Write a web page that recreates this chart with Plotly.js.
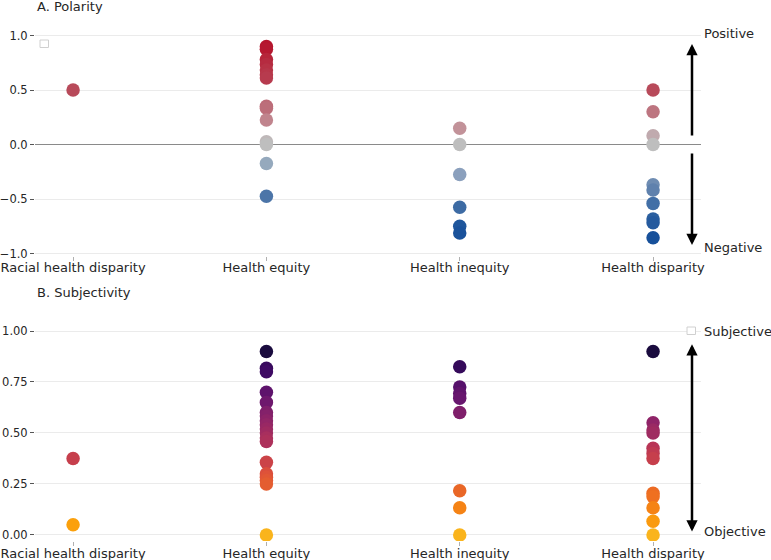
<!DOCTYPE html>
<html>
<head>
<meta charset="utf-8">
<script src="https://cdn.plot.ly/plotly-3.0.1.min.js"></script>
<style>html,body{margin:0;padding:0;background:#fff;}#chart{width:771px;height:560px;}</style>
</head>
<body>
<div id="chart"></div>
<script>
// ---- data ----
const categories = ['Racial health disparity', 'Health equity', 'Health inequity', 'Health disparity'];

const polarityRacial    = [0.5];
const polarityEquity    = [0.9, 0.875, 0.78, 0.733, 0.683, 0.64, 0.61, 0.35, 0.333, 0.225, 0.025, 0, -0.175, -0.475];
const polarityInequity  = [0.15, 0, -0.275, -0.575, -0.75, -0.8125];
const polarityDisparity = [0.5, 0.3, 0.08, 0, -0.37, -0.417, -0.54, -0.683, -0.717, -0.855];

const subjRacial    = [0.375, 0.05];
const subjEquity    = [0.9, 0.817, 0.8, 0.7, 0.65, 0.6, 0.583, 0.56, 0.54, 0.52, 0.5, 0.475, 0.458, 0.356, 0.3, 0.283, 0.267, 0.25, 0];
const subjInequity  = [0.825, 0.725, 0.694, 0.67, 0.6, 0.217, 0.133, 0];
const subjDisparity = [0.9, 0.55, 0.515, 0.5, 0.425, 0.4, 0.375, 0.204, 0.188, 0.133, 0.067, 0];

const polarityTicks = [-1, -0.5, 0, 0.5, 1];
const subjTicks = [0, 0.25, 0.5, 0.75, 1];

// ---- build ----
const polarityGroups = [polarityRacial, polarityEquity, polarityInequity, polarityDisparity];
const subjGroups = [subjRacial, subjEquity, subjInequity, subjDisparity];

function flatten(groups) {
  const xs = [], ys = [];
  groups.forEach((g, i) => g.forEach(v => { xs.push(categories[i]); ys.push(v); }));
  return {xs, ys};
}
const pol = flatten(polarityGroups);
const sub = flatten(subjGroups);

const polScale = [
  [0, '#0f4896'], [0.12, '#1d559c'], [0.2, '#3a69a3'], [0.26, '#4a74a8'], [0.3, '#6585ae'],
  [0.36, '#8aa0bd'], [0.41, '#94a8bd'], [0.5, '#bebebe'], [0.54, '#c0aaae'], [0.575, '#c29299'],
  [0.65, '#bd7580'], [0.75, '#b84a5a'], [0.95, '#b5152d'], [1, '#b0102a']
];
const infernoPart = [
  [0, '#fab41c'], [0.0375, '#fca50a'], [0.1625, '#f37819'], [0.2875, '#dd513a'], [0.4125, '#bc3754'],
  [0.5375, '#932667'], [0.6625, '#6a176e'], [0.7875, '#420a68'], [0.9125, '#160b39'], [1, '#070314']
];

const traces = [
  {
    type: 'scatter', mode: 'markers', x: pol.xs, y: pol.ys, xaxis: 'x', yaxis: 'y',
    marker: {size: 13.5, color: pol.ys, colorscale: polScale, cmin: -1, cmax: 1, line: {width: 0}},
    showlegend: false, hoverinfo: 'x+y'
  },
  {
    type: 'scatter', mode: 'markers', x: sub.xs, y: sub.ys, xaxis: 'x2', yaxis: 'y2',
    marker: {size: 13.5, color: sub.ys, colorscale: infernoPart, cmin: 0, cmax: 1, line: {width: 0}},
    showlegend: false, hoverinfo: 'x+y'
  }
];

const font = {family: 'DejaVu Sans', size: 13, color: '#262626'};
const xdom = [35 / 771, 701 / 771];
const xcommon = {
  type: 'category', categoryorder: 'array', categoryarray: categories,
  range: [-0.197, 3.248], domain: xdom, showgrid: false, zeroline: false, showline: false,
  ticks: 'outside', ticklen: 4, tickwidth: 1, tickcolor: '#b0b0b0', ticklabelstandoff: -4,
  tickfont: {family: 'DejaVu Sans', size: 13, color: '#262626'}, fixedrange: true
};
const ycommon = {
  showgrid: true, gridcolor: '#ebebeb', gridwidth: 1, showline: false,
  ticks: 'outside', ticklen: 4, tickwidth: 1, tickcolor: '#555555',
  tickfont: {family: 'DejaVu Sans', size: 11.5, color: '#262626'}, fixedrange: true
};

const px = v => v / 771;
const py = v => 1 - v / 560;
const arrowX = 692 / 771;

const layout = {
  width: 771, height: 560,
  margin: {l: 0, r: 0, t: 0, b: 0},
  paper_bgcolor: '#ffffff', plot_bgcolor: '#ffffff',
  font: font, showlegend: false,
  xaxis: Object.assign({}, xcommon, {anchor: 'y'}),
  xaxis2: Object.assign({}, xcommon, {anchor: 'y2'}),
  yaxis: Object.assign({}, ycommon, {
    domain: [1 - 255.7 / 560, 1 - 24.6 / 560], range: [-1.02, 1.1], tickvals: polarityTicks,
    tickformat: '.1f', zeroline: true, zerolinecolor: '#8a8a8a', zerolinewidth: 1.5, anchor: 'x'
  }),
  yaxis2: Object.assign({}, ycommon, {
    domain: [1 - 541.1 / 560, 1 - 310.6 / 560], range: [-0.03, 1.1], tickvals: subjTicks,
    tickformat: '.2f', zeroline: false, anchor: 'x2'
  }),
  shapes: [
    {type: 'rect', xref: 'paper', yref: 'paper', x0: px(40), x1: px(48.5), y0: py(47.5), y1: py(40),
     line: {color: '#d0d0d0', width: 1}, fillcolor: '#ffffff'},
    {type: 'rect', xref: 'paper', yref: 'paper', x0: px(687), x1: px(695.5), y0: py(334.5), y1: py(327),
     line: {color: '#d0d0d0', width: 1}, fillcolor: '#ffffff'}
  ],
  annotations: [
    {text: 'A. Polarity', xref: 'paper', yref: 'paper', x: px(35), y: py(7), xanchor: 'left', yanchor: 'middle', showarrow: false, font: font},
    {text: 'B. Subjectivity', xref: 'paper', yref: 'paper', x: px(35), y: py(292), xanchor: 'left', yanchor: 'middle', showarrow: false, font: font},
    {text: 'Positive', xref: 'paper', yref: 'paper', x: px(702), y: py(33), xanchor: 'left', yanchor: 'middle', showarrow: false, font: font},
    {text: 'Negative', xref: 'paper', yref: 'paper', x: px(702), y: py(247), xanchor: 'left', yanchor: 'middle', showarrow: false, font: font},
    {text: 'Subjective', xref: 'paper', yref: 'paper', x: px(702), y: py(331), xanchor: 'left', yanchor: 'middle', showarrow: false, font: font},
    {text: 'Objective', xref: 'paper', yref: 'paper', x: px(702), y: py(531), xanchor: 'left', yanchor: 'middle', showarrow: false, font: font},
    {text: '', xref: 'paper', yref: 'y', x: arrowX, y: 0.922, axref: 'pixel', ayref: 'y', ax: 0, ay: 0.069,
     showarrow: true, arrowhead: 2, arrowsize: 0.9, arrowwidth: 2.5, arrowcolor: '#000000', standoff: 0, startstandoff: 0},
    {text: '', xref: 'paper', yref: 'y', x: arrowX, y: -0.922, axref: 'pixel', ayref: 'y', ax: 0, ay: -0.069,
     showarrow: true, arrowhead: 2, arrowsize: 0.9, arrowwidth: 2.5, arrowcolor: '#000000', standoff: 0, startstandoff: 0},
    {text: '', xref: 'paper', yref: 'y2', x: arrowX, y: 0.935, axref: 'pixel', ayref: 'y2', ax: 0, ay: 0.01,
     showarrow: true, arrowhead: 2, startarrowhead: 2, arrowside: 'end+start', arrowsize: 0.9, startarrowsize: 0.9,
     arrowwidth: 2.5, arrowcolor: '#000000', standoff: 0, startstandoff: 0}
  ]
};

Plotly.newPlot('chart', traces, layout, {displayModeBar: false, staticPlot: true});
</script>
</body>
</html>
